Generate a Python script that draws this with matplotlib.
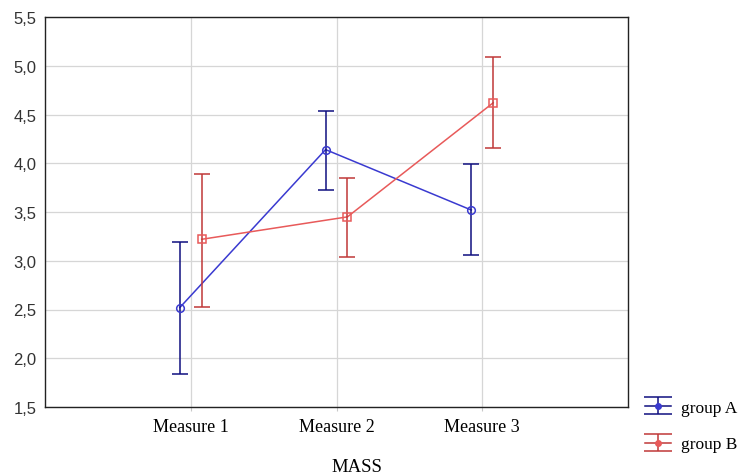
import matplotlib.pyplot as plt
import numpy as np

categories = ['Measure 1', 'Measure 2', 'Measure 3']
group_a_mean = [2.52, 4.14, 3.52]
group_a_low = [1.84, 3.73, 3.06]
group_a_high = [3.19, 4.54, 3.99]
group_b_mean = [3.22, 3.45, 4.62]
group_b_low = [2.53, 3.04, 4.16]
group_b_high = [3.89, 3.85, 5.09]
y_ticks = [1.5, 2.0, 2.5, 3.0, 3.5, 4.0, 4.5, 5.0, 5.5]
y_labels = ['1,5', '2,0', '2,5', '3,0', '3,5', '4,0', '4,5', '5,0', '5,5']

fig = plt.figure(figsize=(7.39, 4.77), dpi=100)
ax = fig.add_axes([45 / 739, 69 / 477, 583 / 739, 390 / 477])

x = np.arange(1, len(categories) + 1)
off = 0.075

def draw(xpos, mean, low, high, line_col, bar_col, marker, label):
    mean = np.array(mean)
    err = [mean - np.array(low), np.array(high) - mean]
    ax.plot(xpos, mean, color=line_col, lw=1.1, zorder=3)
    ax.errorbar(xpos, mean, yerr=err, fmt='none', ecolor=bar_col,
                elinewidth=1.1, capsize=6, capthick=1.1, zorder=3)
    ax.plot(xpos, mean, ls='none', marker=marker, ms=5.5, mfc='none',
            mec=line_col, mew=1.1, zorder=4)
    # legend handle: dummy point outside the visible range
    return ax.errorbar([-10], [0], yerr=[0.1], fmt='-o', color=bar_col,
                       lw=1.1, mfc=line_col, mec=line_col, ms=4, capsize=10,
                       capthick=1.1, elinewidth=1.1, label=label)

ha = draw(x - off, group_a_mean, group_a_low, group_a_high,
          '#3a3ad0', '#101080', 'o', 'group A')
hb = draw(x + off, group_b_mean, group_b_low, group_b_high,
          '#e85a5a', '#c03838', 's', 'group B')

ax.set_xlim(0, 4)
ax.set_ylim(1.5, 5.5)
ax.set_xticks(x)
ax.set_xticklabels(categories, family='Liberation Serif', fontsize=13)
ax.set_yticks(y_ticks)
ax.set_yticklabels(y_labels, family='Liberation Sans', fontsize=12, color='#333333')
ax.tick_params(axis='y', length=0, pad=6)
ax.tick_params(axis='x', length=3, direction='out', color='#c8c8c8', pad=5)
ax.grid(True, color='#d6d6d6', lw=0.9)
ax.set_axisbelow(True)
for s in ax.spines.values():
    s.set_linewidth(1.0)
    s.set_color('#222222')

fig.text(357 / 739, 9 / 477, 'MASS', ha='center', va='center',
         family='Liberation Serif', fontsize=13.5)

fig.legend(handles=[ha, hb], loc='center left', bbox_to_anchor=(645 / 739, 50 / 477),
           frameon=False, prop={'family': 'Liberation Serif', 'size': 12.5},
           labelspacing=1.2, handlelength=1.5, handletextpad=0.6,
           borderpad=0, borderaxespad=0, handleheight=0.6)

fig.savefig('out.png', dpi=100)
